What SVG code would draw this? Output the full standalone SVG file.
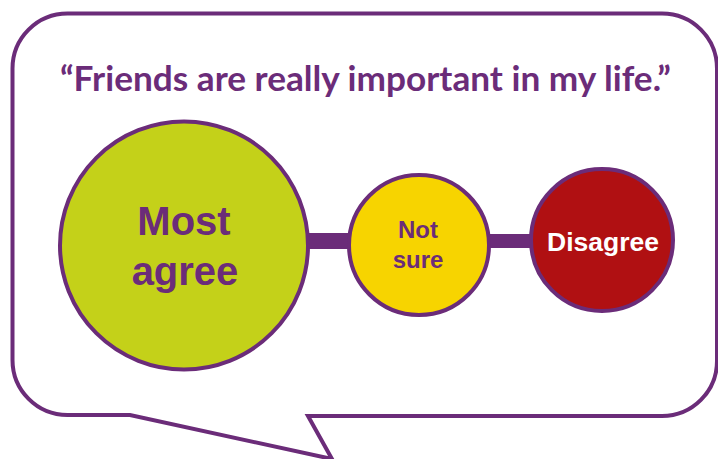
<svg xmlns="http://www.w3.org/2000/svg" width="718" height="459" viewBox="0 0 718 459">
  <style>
    .outline { fill: #ffffff; stroke: #6b2c79; stroke-width: 4; }
    .ring { stroke: #6b2c79; stroke-width: 4; }
    .bar { fill: #6b2c79; }
    .title { font-family: Lato, "Open Sans", "Liberation Sans", sans-serif; font-weight: 700; fill: #6b2c79; }
    .label { font-family: "Liberation Sans", Arial, sans-serif; font-weight: 700; text-anchor: middle; }
  </style>

  <!-- speech bubble -->
  <g id="bubble">
    <path class="outline" d="M 67.5 13.5 H 662 A 55 55 0 0 1 717 68.5 V 361 A 55 55 0 0 1 662 416 H 308 L 332 459 L 130 415 H 67.5 A 55 55 0 0 1 12.5 360 V 68.5 A 55 55 0 0 1 67.5 13.5 Z"/>
  </g>

  <g id="title">
    <text class="title" x="60" y="90.5" font-size="35.2">“Friends are really important in my life.”</text>
  </g>

  <!-- links between the answer circles -->
  <g id="connectors">
    <rect class="bar" x="300" y="233" width="60" height="16"/>
    <rect class="bar" x="480" y="234" width="60" height="14"/>
  </g>

  <g id="most-agree">
    <circle class="ring" cx="184" cy="245.5" r="124" fill="#c4d119"/>
    <text class="label" x="184" y="235" font-size="40" fill="#6b2c79">Most</text>
    <text class="label" x="185" y="285" font-size="40" fill="#6b2c79">agree</text>
  </g>

  <g id="not-sure">
    <circle class="ring" cx="419" cy="245" r="70" fill="#f7d400"/>
    <text class="label" x="418" y="238" font-size="24" fill="#6b2c79">Not</text>
    <text class="label" x="418" y="268" font-size="24" fill="#6b2c79">sure</text>
  </g>

  <g id="disagree">
    <circle class="ring" cx="602" cy="240" r="71" fill="#b01012"/>
    <text class="label" x="603" y="251" font-size="26.5" fill="#ffffff">Disagree</text>
  </g>
</svg>
